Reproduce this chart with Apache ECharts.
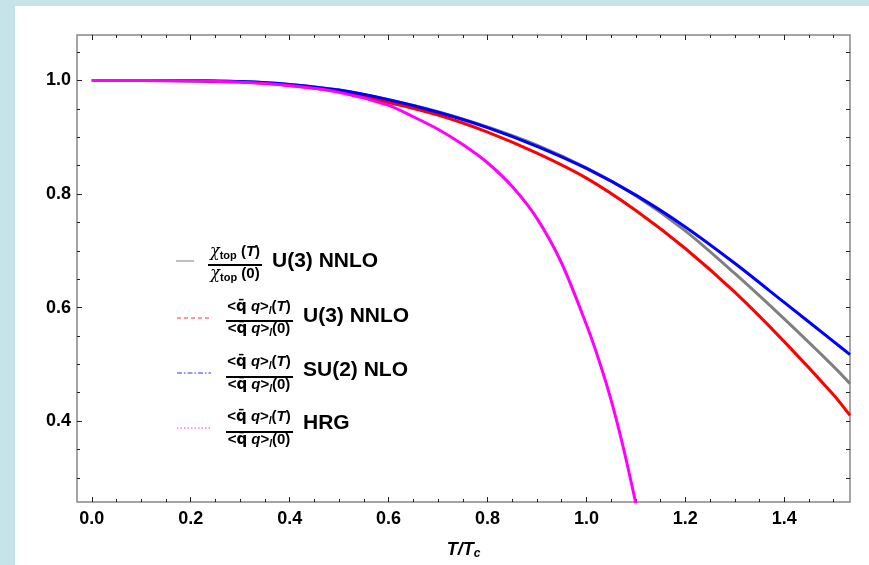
<!DOCTYPE html>
<html>
<head>
<meta charset="utf-8">
<script src="https://cdn.jsdelivr.net/npm/echarts@6/dist/echarts.min.js"></script>
<style>
html, body { margin: 0; padding: 0; background: #c6e3ea; }
#panel { position: absolute; left: 15px; top: 6px; width: 854px; height: 559px; background: #fff; }
#chart { position: absolute; left: 0; top: 0; width: 869px; height: 565px; }
</style>
</head>
<body>
<div id="panel"></div>
<div id="chart"></div>
<script>
// temperature grid (T/Tc) shared by the three chiral curves
var tValues = [0, 0.1, 0.2, 0.3, 0.4, 0.5, 0.6, 0.7, 0.8, 0.9, 1.0, 1.1, 1.2, 1.3, 1.4, 1.5, 1.533]
var chiTopU3 = [1, 1, 0.9995, 0.998, 0.993, 0.983, 0.966, 0.945, 0.918, 0.886, 0.846, 0.797, 0.735, 0.660, 0.580, 0.496, 0.466]
var condU3 = [1, 1, 0.9995, 0.997, 0.991, 0.980, 0.961, 0.939, 0.909, 0.872, 0.828, 0.771, 0.704, 0.627, 0.540, 0.446, 0.410]
var condSU2 = [1, 1, 0.9995, 0.998, 0.993, 0.983, 0.966, 0.944, 0.917, 0.884, 0.845, 0.798, 0.742, 0.678, 0.609, 0.540, 0.517]
// HRG curve falls off earlier
var hrgT = [0, 0.1, 0.2, 0.3, 0.4, 0.5, 0.6, 0.65, 0.7, 0.75, 0.8, 0.85, 0.9, 0.95, 1.0, 1.025, 1.05, 1.075, 1.1]
var hrgVals = [1, 1, 0.9995, 0.997, 0.991, 0.979, 0.956, 0.936, 0.914, 0.887, 0.855, 0.813, 0.757, 0.678, 0.570, 0.508, 0.437, 0.352, 0.255]

var xMajor = [0, 0.2, 0.4, 0.6, 0.8, 1.0, 1.2, 1.4]
var xMinor = [0.05, 0.1, 0.15, 0.25, 0.3, 0.35, 0.45, 0.5, 0.55, 0.65, 0.7, 0.75, 0.85, 0.9, 0.95,
  1.05, 1.1, 1.15, 1.25, 1.3, 1.35, 1.45, 1.5]
var yMajor = [0.4, 0.6, 0.8, 1.0]
var yMinor = [0.3, 0.35, 0.45, 0.5, 0.55, 0.65, 0.7, 0.75, 0.85, 0.9, 0.95, 1.05]

var X_MIN = -0.03, X_MAX = 1.533
var Y_MIN = 0.2575, Y_MAX = 1.08
var FONT = 'Liberation Sans, Arial, sans-serif'

function pairs(xs, ys) {
  return xs.map(function(x, i) { return [x, ys[i]] })
}

function xAxisOf(position, ticks, len, labels) {
  return {
    type: 'value', position: position, min: X_MIN, max: X_MAX,
    axisLine: { show: false, onZero: false }, splitLine: { show: false },
    axisTick: { show: true, inside: true, length: len, customValues: ticks, lineStyle: { color: '#222', width: 1 } },
    axisLabel: labels ? {
      show: true, customValues: labels, margin: 8,
      color: '#000', fontFamily: FONT, fontWeight: 'bold', fontSize: 18,
      formatter: function(v) { return v.toFixed(1) }
    } : { show: false }
  }
}

function yAxisOf(position, ticks, len, labels) {
  return {
    type: 'value', position: position, min: Y_MIN, max: Y_MAX,
    axisLine: { show: false, onZero: false }, splitLine: { show: false },
    axisTick: { show: true, inside: true, length: len, customValues: ticks, lineStyle: { color: '#222', width: 1 } },
    axisLabel: labels ? {
      show: true, customValues: labels, margin: 6,
      color: '#000', fontFamily: FONT, fontWeight: 'bold', fontSize: 18,
      formatter: function(v) { return v.toFixed(1) }
    } : { show: false }
  }
}

function curve(name, color, data) {
  return {
    name: name, type: 'line', data: data,
    xAxisIndex: 0, yAxisIndex: 0,
    showSymbol: false, smooth: 0.3, clip: true,
    lineStyle: { color: color, width: 3 }
  }
}

// legend fraction text
var richBase = {
  b: { fontSize: 15, fontWeight: 'bold', fontFamily: FONT, lineHeight: 18, fill: '#000' },
  bi: { fontSize: 15, fontWeight: 'bold', fontStyle: 'italic', fontFamily: FONT, lineHeight: 18, fill: '#000' },
  q: { fontSize: 15, fontWeight: 'bold', fontFamily: 'DejaVu Sans', lineHeight: 18, fill: '#000' },
  sub: { fontSize: 10, fontWeight: 'bold', fontStyle: 'italic', fontFamily: FONT, lineHeight: 10, verticalAlign: 'bottom', fill: '#000' },
  chi: { fontSize: 16, fontStyle: 'italic', fontFamily: 'DejaVu Serif', lineHeight: 18, fill: '#000' },
  top: { fontSize: 11, fontWeight: 'bold', fontFamily: FONT, lineHeight: 13, verticalAlign: 'bottom', fill: '#000' }
}
var chiNum = '{chi|χ}{top|top}{b| (}{bi|T}{b|)}'
var chiDen = '{chi|χ}{top|top}{b| (0)}'
var qqNum = '{b|<}{q|q̄}{b| }{bi|q}{b|>}{sub|l}{b|(}{bi|T}{b|)}'
var qqDen = '{b|<}{q|q̄}{b| }{bi|q}{b|>}{sub|l}{b|(0)}'

function fracText(x, y, txt) {
  return {
    type: 'text', x: x, y: y, z: 10,
    style: { text: txt, rich: richBase, align: 'center', verticalAlign: 'middle', textAlign: 'center', textVerticalAlign: 'middle' }
  }
}
function bar(x1, x2, y) {
  return { type: 'line', z: 10, shape: { x1: x1, y1: y, x2: x2, y2: y }, style: { stroke: '#000', lineWidth: 2 } }
}
function sample(x1, x2, y, color, dash) {
  return { type: 'line', z: 10, shape: { x1: x1, y1: y, x2: x2, y2: y }, style: { stroke: color, lineWidth: 1, lineDash: dash } }
}
function label(x, y, txt) {
  return {
    type: 'text', x: x, y: y, z: 10,
    style: { text: txt, fill: '#000', fontFamily: FONT, fontWeight: 'bold', fontSize: 21, align: 'left', verticalAlign: 'middle', textAlign: 'left', textVerticalAlign: 'middle' }
  }
}

var legendItems = [
  sample(176, 194, 261, '#808080', null),
  fracText(235, 252, chiNum), bar(208, 262, 265), fracText(235, 274, chiDen),
  label(272, 261, 'U(3) NNLO'),

  sample(177, 211, 318, '#ff3030', [4, 3]),
  fracText(259, 307, qqNum), bar(226, 293, 321), fracText(259, 329, qqDen),
  label(303, 316, 'U(3) NNLO'),

  sample(177, 211, 373, '#3030ff', [5, 2, 1.5, 2]),
  fracText(259, 362, qqNum), bar(226, 293, 377), fracText(259, 385, qqDen),
  label(303, 370, 'SU(2) NLO'),

  sample(177, 211, 428, '#ff30ff', [1.5, 2]),
  fracText(259, 417, qqNum), bar(226, 293, 432), fracText(259, 440, qqDen),
  label(303, 423, 'HRG')
]

var chart = echarts.init(document.getElementById('chart'))
var xMain = xAxisOf('bottom', xMajor, 5, xMajor)
xMain.name = '{v|T/T}{s|c}'
xMain.nameLocation = 'middle'
xMain.nameGap = 38
xMain.nameTextStyle = {
  rich: {
    v: { fontSize: 18, fontWeight: 'bold', fontStyle: 'italic', fontFamily: FONT, color: '#000', lineHeight: 20 },
    s: { fontSize: 12, fontWeight: 'bold', fontStyle: 'italic', fontFamily: FONT, color: '#000', lineHeight: 12, verticalAlign: 'bottom' }
  }
}

chart.setOption({
  animation: false,
  backgroundColor: 'transparent',
  grid: { left: 77, right: 19, top: 35, bottom: 53, show: true, borderColor: '#888', borderWidth: 1.5, backgroundColor: 'transparent' },
  xAxis: [
    xMain,
    xAxisOf('bottom', xMinor, 3, null),
    xAxisOf('top', xMajor, 5, null),
    xAxisOf('top', xMinor, 3, null)
  ],
  yAxis: [
    yAxisOf('left', yMajor, 5, yMajor),
    yAxisOf('left', yMinor, 3, null),
    yAxisOf('right', yMajor.concat(yMinor), 4, null)
  ],
  series: [
    curve('chi_top U(3) NNLO', '#808080', pairs(tValues, chiTopU3)),
    curve('qq U(3) NNLO', '#ff0000', pairs(tValues, condU3)),
    curve('qq SU(2) NLO', '#0000ff', pairs(tValues, condSU2)),
    curve('qq HRG', '#ff00ff', pairs(hrgT, hrgVals))
  ],
  graphic: legendItems
})
</script>
</body>
</html>
